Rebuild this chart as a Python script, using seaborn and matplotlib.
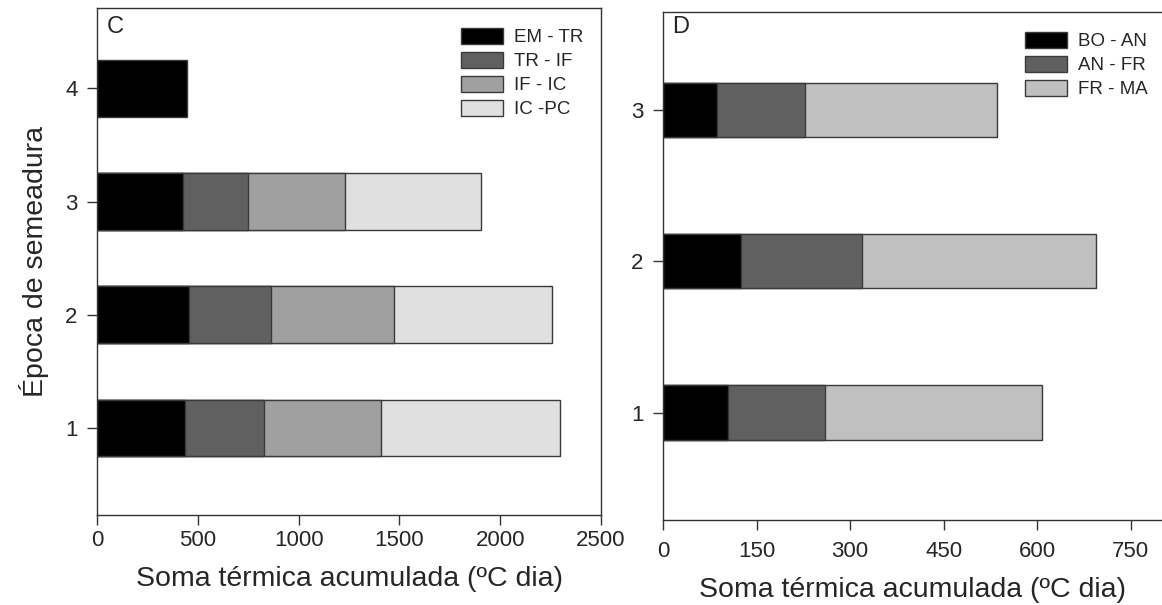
import numpy as np
import pandas as pd
import matplotlib
matplotlib.use("Agg")
import matplotlib.pyplot as plt
from matplotlib.patches import Patch
import seaborn as sns

# Panel C: thermal sum per phase for each sowing date
epocas_c = [1, 2, 3, 4]
fases_c = ["EM - TR", "TR - IF", "IF - IC", "IC -PC"]
em_tr = [436, 456, 428, 446]
tr_if = [392, 406, 322, np.nan]
if_ic = [582, 610, 481, np.nan]
ic_pc = [889, 783, 674, np.nan]
cores_c = ["#000000", "#606060", "#a0a0a0", "#e0e0e0"]

# Panel D: thermal sum per phase for each sowing date
epocas_d = [1, 2, 3]
fases_d = ["BO - AN", "AN - FR", "FR - MA"]
bo_an = [104, 125, 87]
an_fr = [155, 194, 141]
fr_ma = [349, 375, 308]
cores_d = ["#000000", "#606060", "#c0c0c0"]

sns.set_theme(style="white")
plt.rcParams["font.family"] = ["Liberation Sans", "DejaVu Sans"]

EDGE = "#3a3a3a"
W, H = 1162, 605


def long_table(epocas, fases, series):
    rows = []
    for fase, vals in zip(fases, series):
        for ep, v in zip(epocas, vals):
            rows.append({"epoca": ep, "fase": fase, "valor": v})
    df = pd.DataFrame(rows)
    df["fase"] = pd.Categorical(df["fase"], categories=fases, ordered=True)
    df = df.sort_values(["epoca", "fase"])
    df["fim"] = df.groupby("epoca")["valor"].cumsum()
    df.loc[df["valor"].isna(), "fim"] = np.nan
    return df


def stacked(ax, df, fases, cores, width):
    # cumulative bars drawn from the last phase back to the first
    for fase, cor in reversed(list(zip(fases, cores))):
        sub = df[df["fase"] == fase].dropna(subset=["fim"])
        sns.barplot(data=sub, x="fim", y="epoca", orient="h", native_scale=True,
                    color=cor, saturation=1, width=width, edgecolor=EDGE,
                    linewidth=1.0, errorbar=None, ax=ax)
    return [Patch(facecolor=c, edgecolor=EDGE, linewidth=1.0, label=f)
            for f, c in zip(fases, cores)]


def style(ax, xpad, ypad):
    for s in ax.spines.values():
        s.set_color("#333333")
        s.set_linewidth(1.0)
    ax.tick_params(axis="both", direction="out", length=7, width=1.0,
                   color="#333333", labelsize=16, bottom=True, left=True)
    ax.tick_params(axis="x", pad=xpad)
    ax.tick_params(axis="y", pad=ypad)
    ax.grid(False)


def legend(ax, handles, x, y):
    ax.legend(handles=handles, loc="upper left", bbox_to_anchor=(x, y),
              frameon=False, fontsize=13.5, handlelength=2.25,
              handleheight=0.9, handletextpad=0.6, labelspacing=0.31,
              borderpad=0, borderaxespad=0)


fig = plt.figure(figsize=(W / 100, H / 100), dpi=100)
# axes boxes in pixels: left, top, right, bottom
c_box = (97, 8, 601, 515)
d_box = (663, 12, 1162, 520)
ax_c = fig.add_axes([c_box[0] / W, 1 - c_box[3] / H,
                     (c_box[2] - c_box[0]) / W, (c_box[3] - c_box[1]) / H])
ax_d = fig.add_axes([d_box[0] / W, 1 - d_box[3] / H,
                     (d_box[2] - d_box[0]) / W, (d_box[3] - d_box[1]) / H])

df_c = long_table(epocas_c, fases_c, [em_tr, tr_if, if_ic, ic_pc])
h_c = stacked(ax_c, df_c, fases_c, cores_c, 0.5)
ax_c.set_xlim(0, 2500)
ax_c.set_xticks(np.arange(0, 2501, 500))
ax_c.set_ylim(0.23, 4.71)
ax_c.set_yticks(epocas_c)
ax_c.set_yticklabels([str(e) for e in epocas_c])
style(ax_c, xpad=4, ypad=7)
ax_c.set_xlabel("Soma térmica acumulada (ºC dia)", fontsize=20.5)
ax_c.xaxis.set_label_coords(0.5, -0.100)
ax_c.set_ylabel("Época de semeadura", fontsize=20.5)
ax_c.yaxis.set_label_coords(-0.095, 0.5)
ax_c.text(0.020, 0.963, "C", transform=ax_c.transAxes, fontsize=17,
          va="center", ha="left")
legend(ax_c, h_c, (461 - 97) / 504, (515 - 28) / 507)

df_d = long_table(epocas_d, fases_d, [bo_an, an_fr, fr_ma])
h_d = stacked(ax_d, df_d, fases_d, cores_d, 0.36)
ax_d.set_xlim(0, 800)
ax_d.set_xticks(np.arange(0, 751, 150))
ax_d.set_ylim(0.29, 3.647)
ax_d.set_yticks(epocas_d)
ax_d.set_yticklabels([str(e) for e in epocas_d])
style(ax_d, xpad=8, ypad=7)
ax_d.spines["right"].set_visible(False)
ax_d.set_xlabel("Soma térmica acumulada (ºC dia)", fontsize=20.5)
ax_d.xaxis.set_label_coords(0.5, -0.113)
ax_d.set_ylabel("")
ax_d.text(0.018, 0.970, "D", transform=ax_d.transAxes, fontsize=17,
          va="center", ha="left")
legend(ax_d, h_d, (1025 - 663) / 499, (520 - 32) / 508)

fig.savefig("out.png", dpi=100)
